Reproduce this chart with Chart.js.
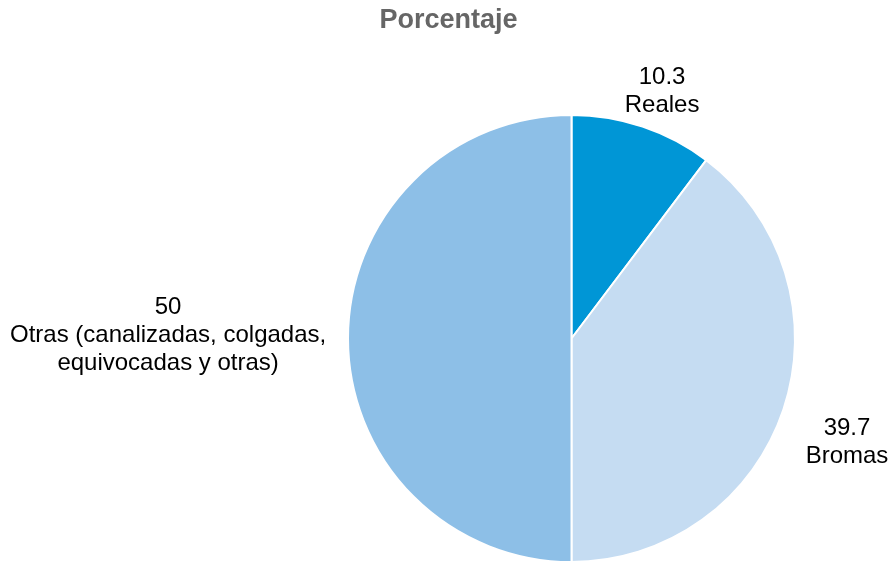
<!DOCTYPE html>
<html><head><meta charset="utf-8">
<script src="https://cdn.jsdelivr.net/npm/chart.js@4"></script>
<style>html,body{margin:0;padding:0;background:#fff}canvas{display:block}</style>
</head><body>
<canvas id="c" width="889" height="563"></canvas>
<script>
const chartTitle = 'Porcentaje';
const categories = [['Reales'], ['Bromas'], ['Otras (canalizadas, colgadas,', 'equivocadas y otras)']];
const values = [10.3, 39.7, 50];
const valueLabels = ['10.3', '39.7', '50'];
const colors = ['#0096D6', '#C5DCF2', '#8DBFE7'];

const FONT = '"Liberation Sans", Arial, Helvetica, sans-serif';

const labelPlugin = {
  id: 'outLabels',
  afterDatasetsDraw(chart) {
    const ctx = chart.ctx;
    const meta = chart.getDatasetMeta(0);
    ctx.save();
    ctx.font = '24px ' + FONT;
    ctx.fillStyle = '#000';
    ctx.textAlign = 'center';
    ctx.textBaseline = 'middle';
    const lh = 28, gap = 33, angleShift = 0.021, yShift = 5;
    meta.data.forEach((arc, i) => {
      const p = arc.getProps(['x', 'y', 'startAngle', 'endAngle', 'outerRadius'], true);
      const mid = (p.startAngle + p.endAngle) / 2 + angleShift;
      const dx = Math.cos(mid), dy = Math.sin(mid);
      const lines = [valueLabels[i]].concat(categories[i]);
      const w = Math.max(...lines.map(l => ctx.measureText(l).width));
      const h = lines.length * lh;
      const dist = p.outerRadius + gap + 0.93 * Math.abs(dx) * w / 2;
      const cx = p.x + dist * dx;
      const cy = p.y + dist * dy + yShift;
      lines.forEach((l, j) => {
        ctx.fillText(l, cx, cy - h / 2 + lh / 2 + j * lh);
      });
    });
    ctx.restore();
  },
  afterDraw(chart) {
    const ctx = chart.ctx;
    ctx.save();
    ctx.font = 'bold 27px ' + FONT;
    ctx.fillStyle = '#666666';
    ctx.textAlign = 'center';
    ctx.textBaseline = 'middle';
    ctx.fillText(chartTitle, chart.width / 2 + 4, 21);
    ctx.restore();
  }
};

new Chart(document.getElementById('c'), {
  type: 'pie',
  data: {
    labels: categories.map(c => c.join(' ')),
    datasets: [{
      data: values,
      backgroundColor: colors,
      borderColor: '#ffffff',
      borderWidth: 2
    }]
  },
  options: {
    responsive: false,
    animation: false,
    layout: { padding: { top: 114, bottom: 0, left: 346, right: 92 } },
    plugins: { legend: { display: false }, tooltip: { enabled: false }, title: { display: false } }
  },
  plugins: [labelPlugin]
});
</script>
</body></html>
